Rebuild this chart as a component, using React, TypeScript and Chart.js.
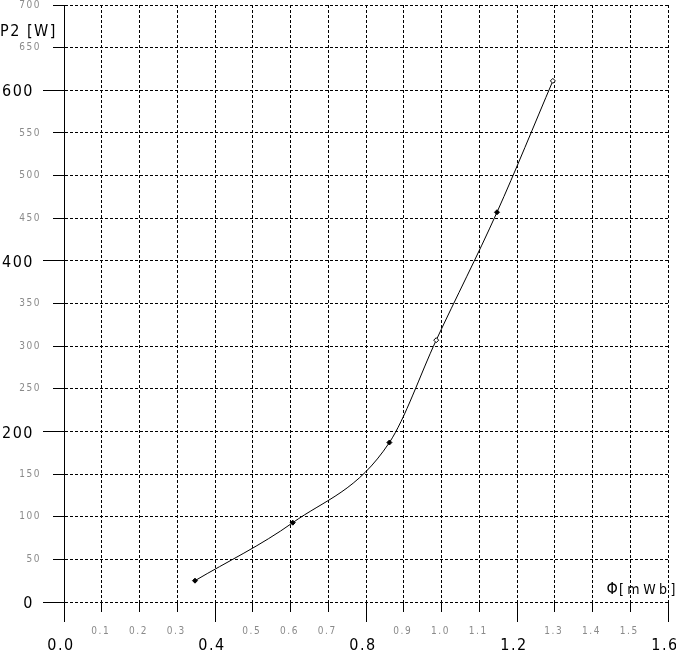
import React, { useEffect, useRef } from 'react';
import { Chart, registerables } from 'chart.js';

Chart.register(...registerables);

// ---- data ----
const phiValues = [0.347, 0.606, 0.862, 0.986, 1.147, 1.295];
const p2Values = [25, 93, 187, 307, 457, 611];

const xMin = 0;
const xMax = 1.6;
const xStep = 0.1;
const xMajorStep = 0.4;

const yMin = 0;
const yMax = 700;
const yStep = 50;
const yMajorStep = 200;

const yTitle = 'P2 [W]';
const xTitleSymbol = 'Φ';
const xTitleUnit = '[mWb]';

const FONT = '"Liberation Sans Narrow", "DejaVu Sans Condensed", "Liberation Sans", Arial, sans-serif';
const MINOR_COLOR = '#8a8a8a';

const isMultiple = (v: number, step: number) => Math.abs(v / step - Math.round(v / step)) < 1e-6;

const textPlugin = {
  id: 'textPlugin',
  beforeUpdate(chart: any) {
    (chart.ctx as any).letterSpacing = '1.5px';
  },
  beforeDraw(chart: any) {
    (chart.ctx as any).letterSpacing = '1.5px';
  },
  afterDraw(chart: any) {
    const { ctx, chartArea } = chart;
    ctx.save();
    ctx.fillStyle = '#000';
    ctx.textBaseline = 'middle';
    (ctx as any).letterSpacing = '1.5px';
    ctx.font = `16px ${FONT}`;
    ctx.textAlign = 'left';
    ctx.fillText(yTitle, 0, chartArea.top + 27);

    (ctx as any).letterSpacing = '3.5px';
    ctx.font = `14px ${FONT}`;
    ctx.textAlign = 'right';
    const unitRight = chart.width + 3;
    ctx.fillText(xTitleUnit, unitRight, chartArea.bottom - 12);
    const unitWidth = ctx.measureText(xTitleUnit).width;
    (ctx as any).letterSpacing = '0px';
    ctx.font = `16px ${FONT}`;
    ctx.fillText(xTitleSymbol, unitRight - unitWidth - 1, chartArea.bottom - 12);
    ctx.restore();
  },
};

export default function App() {
  const ref = useRef<HTMLCanvasElement>(null);

  useEffect(() => {
    if (!ref.current) return;
    const points = phiValues.map((x, i) => ({ x, y: p2Values[i] }));
    const chart = new Chart(ref.current, {
      type: 'line',
      data: {
        datasets: [
          {
            data: points,
            xAxisID: 'x',
            yAxisID: 'y',
            borderColor: '#000',
            borderWidth: 1,
            fill: false,
            cubicInterpolationMode: 'monotone',
            pointStyle: 'rectRot',
            pointRadius: 2.5,
            pointBorderWidth: 1,
            pointBorderColor: '#000',
            pointBackgroundColor: ['#000', '#000', '#000', '#fff', '#000', '#fff'],
          } as any,
        ],
      },
      options: {
        responsive: false,
        animation: false,
        devicePixelRatio: 1,
        layout: { padding: { top: 4, right: 8, bottom: 0, left: 0 } },
        plugins: {
          legend: { display: false },
          tooltip: { enabled: false },
          title: { display: false },
        },
        scales: {
          x: {
            type: 'linear',
            position: 'bottom',
            min: xMin,
            max: xMax,
            weight: 0,
            ticks: {
              stepSize: xStep,
              autoSkip: false,
              maxRotation: 0,
              minRotation: 0,
              maxTicksLimit: 100,
              padding: 3,
              labelOffset: -1,
              color: MINOR_COLOR,
              font: { family: FONT, size: 10 },
              callback: (v: any) => (isMultiple(Number(v), xMajorStep) ? '' : Number(v).toFixed(1)),
            },
            grid: {
              color: '#000',
              lineWidth: 1,
              tickLength: 20,
              tickColor: '#000',
              tickWidth: 1,
              tickBorderDash: (c: any) => (c.tick && isMultiple(c.tick.value, xMajorStep) ? [] : [10, 100]),
            } as any,
            border: { display: false, dash: [3, 2] },
            afterFit: (s: any) => {
              s.height = 34;
              s.paddingLeft = 0;
              s.paddingRight = 0;
            },
          },
          xMajor: {
            type: 'linear',
            position: 'bottom',
            min: xMin,
            max: xMax,
            weight: 1,
            ticks: {
              stepSize: xStep,
              autoSkip: false,
              maxRotation: 0,
              minRotation: 0,
              maxTicksLimit: 100,
              padding: 0,
              labelOffset: -3,
              color: '#000',
              font: { family: FONT, size: 16 },
              callback: (v: any) => (isMultiple(Number(v), xMajorStep) ? Number(v).toFixed(1) : ''),
            },
            grid: { display: false, drawTicks: false, drawOnChartArea: false },
            border: { display: false },
            afterFit: (s: any) => {
              s.height = 21;
              s.paddingLeft = 0;
              s.paddingRight = 0;
            },
          },
          y: {
            type: 'linear',
            position: 'left',
            min: yMin,
            max: yMax,
            weight: 0,
            ticks: {
              stepSize: yStep,
              autoSkip: false,
              maxTicksLimit: 100,
              padding: 2,
              color: MINOR_COLOR,
              font: { family: FONT, size: 10 },
              callback: (v: any) => (isMultiple(Number(v), yMajorStep) ? '' : String(v)),
            },
            grid: {
              color: '#000',
              lineWidth: 1,
              tickLength: 21,
              tickColor: '#000',
              tickWidth: 1,
              tickBorderDash: (c: any) => (c.tick && isMultiple(c.tick.value, yMajorStep) ? [] : [0, 10, 11, 100]),
            } as any,
            border: { display: true, color: '#000', width: 1, dash: [3, 2] },
            afterFit: (s: any) => {
              s.width = 64;
              s.paddingTop = 0;
              s.paddingBottom = 0;
            },
          },
          yMajor: {
            type: 'linear',
            position: 'left',
            min: yMin,
            max: yMax,
            weight: 1,
            ticks: {
              stepSize: yStep,
              autoSkip: false,
              maxTicksLimit: 100,
              mirror: true,
              crossAlign: 'far',
              padding: 2,
              labelOffset: 2,
              color: '#000',
              font: { family: FONT, size: 16 },
              callback: (v: any) => (isMultiple(Number(v), yMajorStep) ? String(v) : ''),
            },
            grid: { display: false, drawTicks: false, drawOnChartArea: false },
            border: { display: false },
            afterFit: (s: any) => {
              s.width = 0;
              s.paddingTop = 0;
              s.paddingBottom = 0;
            },
          },
        },
      } as any,
      plugins: [textPlugin],
    });
    return () => chart.destroy();
  }, []);

  return (
    <div style={{ position: 'fixed', left: 0, top: 0, width: 676, height: 657, background: '#fff' }}>
      <canvas ref={ref} width={676} height={657} style={{ display: 'block' }} />
    </div>
  );
}
